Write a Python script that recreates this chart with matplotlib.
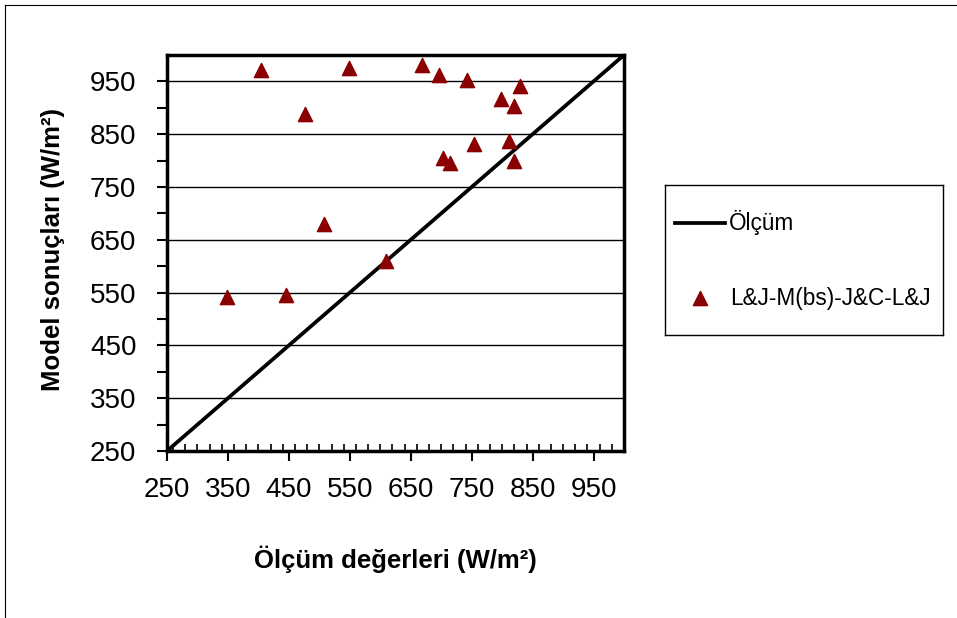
import matplotlib
matplotlib.use("Agg")
import matplotlib.pyplot as plt
from matplotlib.lines import Line2D
from matplotlib.ticker import MultipleLocator, FixedLocator

plt.rcParams['font.family'] = ['Liberation Sans', 'DejaVu Sans']

# measured values (W/m2) vs model results
olcum = [404, 548, 669, 697, 743, 829, 798, 819, 477, 754,
         811, 703, 714, 819, 507, 609, 348, 445]
model = [971, 975, 982, 962, 953, 942, 916, 903, 888, 832,
         837, 804, 796, 799, 680, 609, 541, 546]
ref_line = [250, 1000]
ticks = [250, 350, 450, 550, 650, 750, 850, 950]

W, H = 957, 618
fig = plt.figure(figsize=(W / 100, H / 100), dpi=100)
fig.patch.set_facecolor('white')

# outer frame (only top and left edges are inside the picture)
fig.add_artist(Line2D([5 / W, 5 / W], [0, 1 - 5 / H], transform=fig.transFigure,
                      color='black', lw=0.8))
fig.add_artist(Line2D([5 / W, 1], [1 - 5 / H, 1 - 5 / H], transform=fig.transFigure,
                      color='black', lw=0.8))

ax = fig.add_axes([167 / W, (H - 451) / H, 457 / W, 396 / H])
ax.set_xlim(250, 1000)
ax.set_ylim(250, 1000)

for y in ticks[1:]:
    ax.axhline(y, color='black', lw=1.0, zorder=1)

ax.plot(ref_line, ref_line, color='black', lw=2.7, zorder=2, label='Ölçüm')
ax.scatter(olcum, model, marker='^', s=105, color='#8b0000', zorder=3,
           label='L&J-M(bs)-J&C-L&J')

ax.xaxis.set_major_locator(FixedLocator(ticks))
ax.xaxis.set_minor_locator(MultipleLocator(20))
ax.yaxis.set_major_locator(FixedLocator(ticks))
ax.yaxis.set_minor_locator(FixedLocator([300, 400, 500, 600, 700, 800, 900]))

ax.tick_params(axis='x', which='major', direction='out', length=7, width=1.5, pad=12)
ax.tick_params(axis='x', which='minor', direction='in', length=5, width=1.2)
ax.tick_params(axis='y', which='both', direction='out', length=7, width=1.5, pad=15)
for lbl in ax.get_xticklabels() + ax.get_yticklabels():
    lbl.set_family(['Liberation Sans Narrow', 'Liberation Sans'])
    lbl.set_fontsize(20)
for s in ax.spines.values():
    s.set_linewidth(2.5)

ax.set_xlabel('Ölçüm değerleri (W/m²)', fontsize=18.5, fontweight='bold')
ax.xaxis.set_label_coords(0.5, -0.24)
ax.set_ylabel('Model sonuçları (W/m²)', fontsize=18.5, fontweight='bold')
ax.yaxis.set_label_coords(-0.223, 0.508)

# legend box drawn by hand to get the padding of the original
lax = fig.add_axes([665 / W, (H - 335) / H, 278 / W, 150 / H])
lax.set_xlim(0, 278)
lax.set_ylim(150, 0)
lax.set_xticks([])
lax.set_yticks([])
for s in lax.spines.values():
    s.set_linewidth(1.0)
lax.plot([10, 60], [38, 38], color='black', lw=2.7)
lax.text(64, 38, 'Ölçüm', fontsize=16.3, va='center', ha='left')
lax.scatter([35], [113], marker='^', s=105, color='#8b0000')
lax.text(65, 113, 'L&J-M(bs)-J&C-L&J', fontsize=16.3, va='center', ha='left')

fig.savefig('out.png', dpi=100)
